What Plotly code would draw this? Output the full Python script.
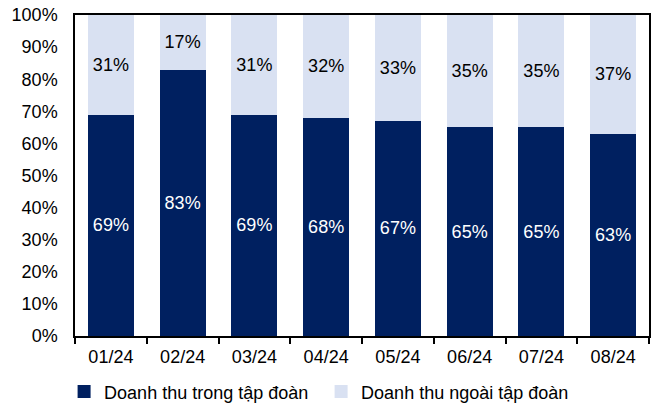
import plotly.graph_objects as go

categories = ["01/24", "02/24", "03/24", "04/24", "05/24", "06/24", "07/24", "08/24"]
inside = [69, 83, 69, 68, 67, 65, 65, 63]
outside = [31, 17, 31, 32, 33, 35, 35, 37]
series_names = ["Doanh thu trong tập đoàn", "Doanh thu ngoài tập đoàn"]
colors = ["#002060", "#D9E1F2"]
y_ticks = list(range(0, 101, 10))

font_family = "Liberation Sans, Arial, sans-serif"
FS = 18

fig = go.Figure()
for vals, name, col, tcol in [(inside, series_names[0], colors[0], "white"),
                              (outside, series_names[1], colors[1], "black")]:
    fig.add_trace(go.Bar(
        x=categories, y=vals, name=name, showlegend=False,
        marker=dict(color=col, line=dict(width=0)),
        text=[f"{v}%" for v in vals], textposition="inside",
        insidetextanchor="middle",
        textfont=dict(color=tcol, size=FS, family=font_family),
    ))
# legend entries with square markers
for name, col in zip(series_names, colors):
    fig.add_trace(go.Scatter(
        x=[None], y=[None], mode="markers", name=name,
        marker=dict(symbol="square", size=13, color=col),
    ))

fig.update_layout(
    barmode="stack",
    bargap=0.36,
    width=661, height=405,
    margin=dict(l=75, r=12, t=15, b=69, autoexpand=False),
    plot_bgcolor="white", paper_bgcolor="white",
    font=dict(family=font_family, size=FS, color="black"),
    uniformtext=dict(minsize=FS, mode="show"),
    showlegend=True,
    legend=dict(orientation="h",
                x=-0.019, xanchor="left", y=-0.174, yanchor="middle",
                font=dict(size=FS), traceorder="normal", itemwidth=30,
                entrywidth=212, tracegroupgap=0),
    xaxis=dict(
        showline=True, linecolor="black", linewidth=1.5, mirror=True,
        ticks="outside", tickson="boundaries", ticklen=6, tickcolor="black",
        tickwidth=1.5, tickfont=dict(size=FS), ticklabelstandoff=4,
        automargin=False,
    ),
    yaxis=dict(
        range=[0, 100], tickvals=y_ticks, ticktext=[f"{v}%" for v in y_ticks],
        showline=True, linecolor="black", linewidth=1.5, mirror=True,
        showgrid=False, zeroline=False, ticks="", tickfont=dict(size=FS),
        ticklabelstandoff=12, automargin=False,
    ),
)

fig.write_html(
    "out.html",
    config={"displayModeBar": False},
    post_script="document.body.style.margin='0';document.body.style.overflow='hidden';",
)
